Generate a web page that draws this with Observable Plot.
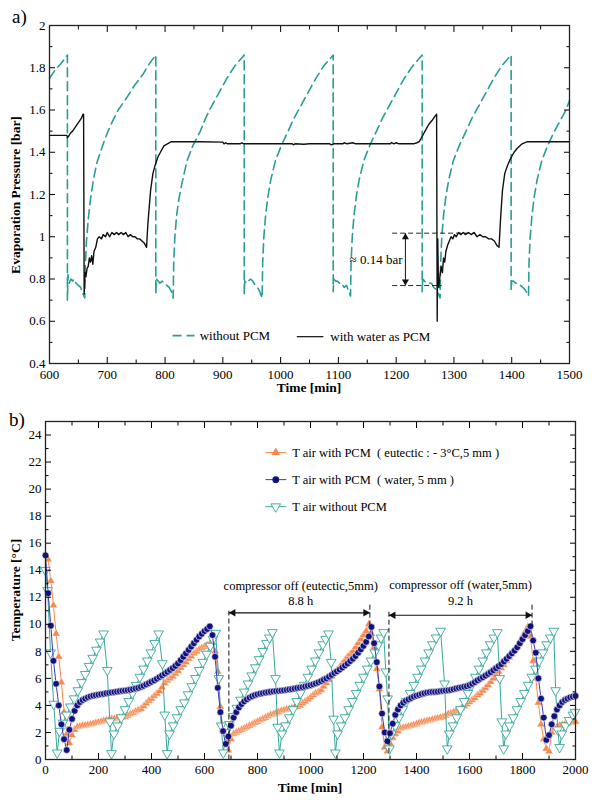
<!DOCTYPE html>
<html><head><meta charset="utf-8">
<script src="https://cdn.jsdelivr.net/npm/d3@7"></script>
<script src="https://cdn.jsdelivr.net/npm/@observablehq/plot@0.6"></script>
<style>
body{margin:0;background:#fff;}
#wrap{position:relative;width:600px;height:800px;font-family:"Liberation Serif","Times New Roman",serif;color:#000;overflow:hidden;}
.panel{position:absolute;left:0;}
.tag{position:absolute;font-size:19px;}
.ylab{position:absolute;font-weight:bold;font-size:13.5px;white-space:nowrap;transform:translate(-50%,-50%) rotate(-90deg);}
.xlab{position:absolute;font-weight:bold;font-size:13.5px;white-space:nowrap;transform:translate(-50%,-50%);}
</style></head><body>
<div id="wrap">
  <div class="panel" id="pa" style="top:0"></div>
  <div class="panel" id="pb" style="top:395px"></div>
  <div class="tag" style="left:12px;top:6px">a)</div>
  <div class="tag" style="left:9px;top:409px">b)</div>
  <div class="ylab" style="left:16px;top:195px">Evaporation Pressure [bar]</div>
  <div class="xlab" style="left:309px;top:388px">Time [min]</div>
  <div class="ylab" style="left:16px;top:590px">Temperature [°C]</div>
  <div class="xlab" style="left:310px;top:788px">Time [min]</div>
</div>
<script>
// ---------- Panel a data ----------
const aXTicks = [600,700,800,900,1000,1100,1200,1300,1400,1500];
const aXMinor = [650,750,850,950,1050,1150,1250,1350,1450];
const aYTicks = [0.4,0.6,0.8,1,1.2,1.4,1.6,1.8,2];
const aYMinor = [0.5,0.7,0.9,1.1,1.3,1.5,1.7,1.9];

// without PCM: [time, pressure]
const aWithoutPcm = [
 [600,1.75],[610,1.79],[620,1.82],[631,1.86],
 [631,0.70],[632,0.82],[634,0.78],[637,0.80],[640,0.79],[643,0.80],[646,0.78],[650,0.77],[654,0.76],[658,0.73],[661,0.71],
 [662,0.86],[664,0.98],[667,1.08],[671,1.18],[676,1.27],[682,1.35],[688,1.40],[697,1.47],[706,1.53],[719,1.60],[734,1.66],[748,1.72],[762,1.77],[773,1.82],[784,1.86],
 [784,0.73],[785,0.80],[788,0.79],[791,0.78],[795,0.79],[799,0.78],[803,0.77],[807,0.76],[811,0.74],[814,0.71],
 [815,0.88],[817,1.0],[820,1.1],[824,1.18],[829,1.25],[838,1.36],[848,1.43],[861,1.50],[870,1.56],[879,1.61],[893,1.68],[907,1.75],[921,1.81],[937,1.86],
 [937,0.73],[938,0.79],[941,0.78],[944,0.79],[948,0.80],[952,0.79],[956,0.77],[960,0.76],[964,0.74],[968,0.71],
 [969,0.88],[971,1.0],[974,1.1],[978,1.19],[983,1.27],[991,1.36],[1001,1.43],[1013,1.50],[1023,1.56],[1033,1.61],[1047,1.68],[1061,1.75],[1075,1.81],[1091,1.86],
 [1091,0.74],[1092,0.80],[1095,0.79],[1098,0.79],[1102,0.78],[1106,0.78],[1110,0.76],[1114,0.77],[1118,0.74],[1121,0.72],
 [1122,0.88],[1124,1.0],[1127,1.1],[1131,1.19],[1136,1.27],[1144,1.36],[1154,1.43],[1166,1.50],[1176,1.56],[1186,1.61],[1200,1.68],[1214,1.75],[1229,1.81],[1245,1.86],
 [1245,0.74],[1246,0.80],[1249,0.79],[1253,0.78],[1257,0.78],[1261,0.78],[1265,0.76],[1269,0.75],[1273,0.73],[1276,0.71],
 [1277,0.88],[1279,1.0],[1282,1.1],[1286,1.19],[1291,1.27],[1299,1.36],[1309,1.43],[1321,1.50],[1331,1.56],[1341,1.61],[1355,1.68],[1369,1.75],[1383,1.81],[1399,1.86],
 [1399,0.75],[1400,0.79],[1403,0.79],[1407,0.78],[1411,0.78],[1415,0.77],[1419,0.76],[1423,0.75],[1427,0.73],[1429,0.72],
 [1430,0.88],[1432,1.0],[1435,1.1],[1439,1.19],[1444,1.27],[1452,1.36],[1462,1.43],[1474,1.50],[1484,1.55],[1494,1.60],[1500,1.645]
];
// with water as PCM: [time, pressure]
const aWaterPcm = [
 [600,1.48],[630,1.48],[631,1.47],[633,1.475],[636,1.49],[640,1.50],[645,1.52],[650,1.54],[655,1.56],[658,1.58],[659,1.58],
 [660,0.73],[661,0.80],[662,0.83],[663,0.81],[665,0.85],[667,0.86],[669,0.90],[671,0.88],[673,0.91],[675,0.87],[677,0.93],[680,0.95],
 [683,0.99],[686,1.00],[690,0.99],[693,1.01],[697,1.00],[700,1.02],[704,1.00],[708,1.02],[712,1.01],[716,1.02],[720,1.01],[724,1.02],
 [728,1.01],[732,1.02],[736,1.00],[740,1.01],[744,1.00],[748,1.00],[752,0.99],[756,0.99],[760,0.98],[764,0.97],[768,0.95],
 [770,1.05],[772,1.12],[775,1.22],[779,1.30],[783,1.34],[788,1.38],[792,1.40],[798,1.43],[804,1.44],[811,1.45],[818,1.45],
 [860,1.45],[900,1.448],[902,1.44],[905,1.445],[908,1.44],[930,1.44],[933,1.445],[936,1.44],[1020,1.44],[1022,1.435],[1025,1.44],
 [1040,1.438],[1050,1.44],[1085,1.44],[1088,1.435],[1092,1.44],[1108,1.44],[1110,1.445],[1115,1.44],[1125,1.445],[1130,1.44],
 [1190,1.44],[1192,1.446],[1196,1.44],[1200,1.445],[1205,1.44],[1230,1.44],[1236,1.445],[1240,1.45],[1244,1.47],[1250,1.50],
 [1256,1.53],[1262,1.55],[1267,1.57],[1270,1.58],
 [1271,0.60],[1272,0.99],[1273,0.80],[1274,0.76],[1276,0.82],[1278,0.86],[1280,0.83],[1282,0.90],[1284,0.88],[1286,0.93],[1289,0.96],
 [1292,0.98],[1295,1.00],[1298,0.99],[1301,1.01],[1304,1.00],[1308,1.02],[1312,1.01],[1316,1.02],[1320,1.01],[1325,1.02],[1330,1.01],
 [1335,1.02],[1340,1.00],[1345,1.01],[1350,1.00],[1355,1.00],[1360,0.99],[1365,0.99],[1370,0.98],[1374,0.96],[1378,0.95],
 [1381,1.10],[1384,1.22],[1388,1.30],[1393,1.34],[1398,1.37],[1404,1.40],[1410,1.42],[1418,1.44],[1427,1.45],[1500,1.45]
];
// annotation of the pressure difference
const aBracketY = [1.017, 0.769];
const aBracketX1 = [1193, 1193];
const aBracketX2 = [1337, 1279];
const aDeltaX = 1216;
const aDeltaLabel = "≈ 0.14 bar";
const aLegendLabels = ["without PCM", "with water as PCM"];

// ---------- Panel b data ----------
const bXTicks = [0,200,400,600,800,1000,1200,1400,1600,1800,2000];
const bXMinor = [100,300,500,700,900,1100,1300,1500,1700,1900];
const bYTicks = [0,2,4,6,8,10,12,14,16,18,20,22,24];
const bYMinor = [1,3,5,7,9,11,13,15,17,19,21,23,25];

const bTime = [
 0,10,20,30,40,50,60,70,80,90, 100,110,120,130,140,150,160,170,180,190,
 200,210,220,230,240,250,260,270,280,290, 300,310,320,330,340,350,360,370,380,390,
 400,410,420,430,440,450,460,470,480,490, 500,510,520,530,540,550,560,570,580,590,
 600,610,620,630,640,650,660,670,680,690, 700,710,720,730,740,750,760,770,780,790,
 800,810,820,830,840,850,860,870,880,890, 900,910,920,930,940,950,960,970,980,990,
 1000,1010,1020,1030,1040,1050,1060,1070,1080,1090, 1100,1110,1120,1130,1140,1150,1160,1170,1180,1190,
 1200,1210,1220,1230,1240,1250,1260,1270,1280,1290, 1300,1310,1320,1330,1340,1350,1360,1370,1380,1390,
 1400,1410,1420,1430,1440,1450,1460,1470,1480,1490, 1500,1510,1520,1530,1540,1550,1560,1570,1580,1590,
 1600,1610,1620,1630,1640,1650,1660,1670,1680,1690, 1700,1710,1720,1730,1740,1750,1760,1770,1780,1790,
 1800,1810,1820,1830,1840,1850,1860,1870,1880,1890, 1900,1910,1920,1930,1940,1950,1960,1970,1980,1990,
 2000
];
// T air with PCM (water, 5 mm)
const bWater = [
 15.1,12.3,9.9,7.3,5.6,4.0,2.6,1.5,0.7,2.2,
 3.0,3.6,4.0,4.25,4.4,4.5,4.6,4.67,4.72,4.76,
 4.8,4.83,4.86,4.9,4.93,4.96,4.99,5.02,5.05,5.08,
 5.1,5.13,5.16,5.2,5.25,5.3,5.37,5.45,5.55,5.65,
 5.75,5.85,5.97,6.1,6.22,6.35,6.48,6.62,6.76,6.92,
 7.1,7.35,7.6,7.85,8.1,8.35,8.6,8.85,9.1,9.3,
 9.5,9.65,9.85,9.2,7.6,5.3,3.5,2.1,1.15,1.7,
 2.5,3.1,3.5,3.85,4.1,4.3,4.45,4.58,4.68,4.76,
 4.82,4.87,4.91,4.95,4.98,5.01,5.04,5.06,5.08,5.1,
 5.12,5.15,5.18,5.21,5.25,5.29,5.32,5.36,5.4,5.45,
 5.5,5.56,5.63,5.71,5.8,5.9,6.0,6.12,6.25,6.4,
 6.52,6.65,6.8,6.95,7.1,7.28,7.45,7.65,7.9,8.15,
 8.4,8.7,9.1,9.8,8.6,7.2,5.4,3.4,2.0,1.35,
 1.95,2.65,3.3,3.7,4.0,4.2,4.35,4.45,4.55,4.65,
 4.72,4.78,4.85,4.9,4.95,4.98,5.0,5.0,5.02,5.05,
 5.08,5.1,5.12,5.15,5.2,5.25,5.3,5.34,5.38,5.42,
 5.5,5.6,5.72,5.85,5.97,6.08,6.2,6.33,6.46,6.6,
 6.75,6.9,7.05,7.25,7.45,7.65,7.85,8.05,8.3,8.6,
 8.9,9.2,9.5,9.85,8.8,7.9,6.0,4.5,3.1,1.45,
 1.8,2.6,3.2,3.7,4.0,4.25,4.4,4.5,4.6,4.65,
 4.7
];
// T air with PCM (eutectic -3°C, 5 mm)
const bEutectic = [
 null,14.8,13.2,11.4,9.3,7.6,5.7,3.5,1.9,1.2,
 1.8,2.2,2.4,2.45,2.5,2.52,2.55,2.6,2.65,2.7,
 2.75,2.8,2.85,2.9,2.95,3.0,3.0,3.05,3.1,3.12,
 3.15,3.25,3.35,3.45,3.55,3.65,3.75,3.95,4.15,4.35,
 4.5,4.7,4.87,5.05,5.35,5.65,5.85,6.0,6.15,6.35,
 6.55,6.8,7.0,7.2,7.45,7.65,7.85,8.0,8.15,8.25,
 8.35,8.45,8.55,8.65,8.0,6.5,3.9,2.1,1.2,0.67,
 1.5,1.9,2.0,2.1,2.2,2.3,2.4,2.5,2.6,2.7,
 2.8,2.9,3.0,3.1,3.2,3.3,3.35,3.45,3.5,3.6,
 3.65,3.7,3.75,3.8,3.85,3.9,4.0,4.15,4.3,4.45,
 4.6,4.75,4.9,5.0,5.15,5.4,5.65,5.9,6.15,6.4,
 6.6,6.85,7.1,7.35,7.6,7.8,8.0,8.3,8.6,8.9,
 9.2,9.5,10.0,9.3,8.3,6.7,5.2,2.4,0.9,0.6,
 1.2,1.6,1.9,2.1,2.3,2.35,2.4,2.45,2.5,2.55,
 2.62,2.7,2.75,2.8,2.85,2.9,2.95,3.0,3.05,3.1,
 3.15,3.25,3.35,3.4,3.5,3.6,3.7,3.8,3.95,4.1,
 4.25,4.4,4.55,4.75,4.9,5.1,5.3,5.5,5.75,6.0,
 6.25,6.5,6.75,7.0,7.3,7.55,7.8,8.1,8.4,8.75,
 9.1,9.45,9.8,9.1,7.3,6.0,4.2,2.6,1.5,0.8,
 0.6,2.0,2.3,2.4,2.5,2.55,2.6,2.65,2.7,2.75,
 2.8
];
// T air without PCM: [time, temperature]
const bWithoutPcm = [
 [0,14.0],[8,12.5],[19,7.9],[31,4.1],[44,0.5],[53,2.1],[66,2.7],[80,3.3],[94,3.9],[108,4.5],[122,5.1],[136,5.7],[150,6.3],[164,6.9],[178,7.5],[192,8.1],[206,8.7],[219,9.3],
 [233,6.6],[243,2.8],[249,0.45],[258,1.9],[272,2.5],[286,3.1],[300,3.7],[314,4.3],[328,4.9],[342,5.5],[356,6.1],[370,6.7],[384,7.3],[398,7.9],[412,8.6],[427,9.3],
 [441,7.1],[450,3.3],[459,0.45],[468,1.9],[482,2.5],[496,3.1],[510,3.7],[524,4.2],[538,4.8],[552,5.4],[566,6.0],[580,6.6],[594,7.2],[608,7.8],[622,8.4],[632,8.9],[642,9.35],
 [654,6.0],[663,2.5],[671,0.5],[680,2.0],[694,2.6],[708,3.2],[722,3.8],[736,4.4],[750,5.0],[764,5.6],[778,6.2],[792,6.8],[806,7.4],[820,8.0],[834,8.6],[845,9.0],[856,9.4],
 [868,6.0],[876,2.4],[883,0.5],[892,1.9],[906,2.5],[920,3.1],[934,3.7],[948,4.3],[962,4.9],[976,5.5],[990,6.1],[1004,6.7],[1018,7.3],[1032,7.9],[1046,8.5],[1057,8.9],[1068,9.3],
 [1078,7.2],[1087,3.0],[1094,0.5],[1102,1.9],[1116,2.5],[1130,3.1],[1144,3.7],[1158,4.3],[1172,4.9],[1186,5.5],[1200,6.1],[1214,6.7],[1228,7.3],[1242,7.9],[1256,8.5],[1266,9.0],[1276,9.4],
 [1284,6.5],[1291,4.5],[1298,0.8],[1306,1.9],[1320,2.5],[1334,3.1],[1348,3.7],[1362,4.3],[1376,4.9],[1390,5.5],[1404,6.1],[1418,6.7],[1432,7.3],[1446,7.9],[1460,8.5],[1474,9.0],[1491,9.5],
 [1506,5.6],[1516,0.8],[1524,1.9],[1538,2.5],[1552,3.1],[1566,3.7],[1580,4.3],[1594,4.9],[1608,5.5],[1622,6.1],[1636,6.7],[1650,7.3],[1664,7.9],[1678,8.5],[1692,9.0],[1705,9.4],
 [1714,6.0],[1722,2.8],[1729,0.8],[1737,1.9],[1751,2.5],[1765,3.1],[1779,3.7],[1793,4.3],[1807,4.9],[1821,5.5],[1835,6.1],[1849,6.7],[1863,7.3],[1877,7.9],[1891,8.5],[1905,9.0],[1918,9.5],
 [1925,5.1],[1933,2.2],[1940,0.9],[1948,1.9],[1962,2.5],[1976,2.9],[1990,3.3],[1998,3.5]
];
const bLegendLabels = [
 "T air with PCM  ( eutectic : - 3°C,5 mm )",
 "T air with PCM  ( water, 5 mm )",
 "T air without PCM"
];
const bLegendY = [22.7, 20.7, 18.7];
// compressor-off periods: start, end, label, duration
const bOffStart = [692, 1296];
const bOffEnd = [1224, 1836];
const bOffLabel = ["compressor off (eutectic,5mm)", "compressor off (water,5mm)"];
const bOffHours = ["8.8 h", "9.2 h"];

// ---------- styles ----------
const teal = "#2a9d95";
const tealB = "#35a89c";
const orange = "#f5884d";
const navy = "#12127f";
const navyLine = "#3b3bb0";
const ink = "#111";
const fontFam = '"Liberation Serif", "Times New Roman", serif';

function frameAxes(xT, xM, yT, yM, fmtX, fmtY, padX) {
  return [
    Plot.axisX(xT, {anchor: "bottom", tickSize: 0, tickPadding: padX, tickFormat: fmtX, label: null}),
    Plot.axisY(yT, {anchor: "left", tickSize: 0, tickPadding: 4, tickFormat: fmtY, label: null}),
    Plot.axisX(xT, {anchor: "bottom", tickSize: -6, fill: "none", label: null}),
    Plot.axisX(xM, {anchor: "bottom", tickSize: -3.5, fill: "none", label: null}),
    Plot.axisX(xT, {anchor: "top", tickSize: -6, fill: "none", label: null}),
    Plot.axisX(xM, {anchor: "top", tickSize: -3.5, fill: "none", label: null}),
    Plot.axisY(yT, {anchor: "left", tickSize: -6, fill: "none", label: null}),
    Plot.axisY(yM, {anchor: "left", tickSize: -3.5, fill: "none", label: null}),
    Plot.axisY(yT, {anchor: "right", tickSize: -6, fill: "none", label: null}),
    Plot.axisY(yM, {anchor: "right", tickSize: -3.5, fill: "none", label: null}),
    Plot.frame({stroke: "#222", strokeWidth: 1.3})
  ];
}

// ---------- Panel a ----------
const aBracket = aBracketY.map((y, i) => ({y, x1: aBracketX1[i], x2: aBracketX2[i]}));
const aDelta = [{x: aDeltaX, lo: aBracketY[1], hi: aBracketY[0], label: aDeltaLabel, ty: (aBracketY[0] + aBracketY[1]) / 2}];

const plotA = Plot.plot({
  width: 600, height: 395,
  marginTop: 25, marginRight: 31, marginBottom: 32, marginLeft: 49,
  style: {fontFamily: fontFam, fontSize: "13px", color: "#000", background: "#fff"},
  x: {domain: [600, 1500]},
  y: {domain: [0.4, 2]},
  marks: [
    Plot.line(aWithoutPcm, {x: d => d[0], y: d => d[1], stroke: teal, strokeWidth: 1.6, strokeDasharray: "9,5"}),
    Plot.line(aWaterPcm, {x: d => d[0], y: d => d[1], stroke: ink, strokeWidth: 1.4}),
    Plot.link(aBracket, {x1: "x1", x2: "x2", y1: "y", y2: "y", stroke: ink, strokeWidth: 0.9, strokeDasharray: "5,3"}),
    Plot.link(aDelta, {x1: "x", x2: "x", y1: "lo", y2: "hi", stroke: ink, strokeWidth: 1}),
    Plot.dot(aDelta, {x: "x", y: "hi", symbol: "triangle", r: 2.6, fill: ink, stroke: null, dy: 4}),
    Plot.dot(aDelta, {x: "x", y: "lo", symbol: "triangle", rotate: 180, r: 2.6, fill: ink, stroke: null, dy: -4}),
    Plot.text(aDelta, {x: d => d.x - 5, y: "ty", text: "label", textAnchor: "end", fontSize: 13, fill: "#000"}),
    // legend
    Plot.link([aLegendLabels[0]], {x1: 813, x2: 851, y1: 0.532, y2: 0.532, stroke: teal, strokeWidth: 1.6, strokeDasharray: "9,5"}),
    Plot.text([aLegendLabels[0]], {x: 860, y: 0.532, text: d => d, textAnchor: "start", fontSize: 13, fill: "#000"}),
    Plot.link([aLegendLabels[1]], {x1: 1028, x2: 1074, y1: 0.527, y2: 0.527, stroke: ink, strokeWidth: 1.2}),
    Plot.text([aLegendLabels[1]], {x: 1086, y: 0.527, text: d => d, textAnchor: "start", fontSize: 13, fill: "#000"}),
    ...frameAxes(aXTicks, aXMinor, aYTicks, aYMinor, d => String(d), d => String(d), 6)
  ]
});
document.getElementById("pa").appendChild(plotA);

// ---------- Panel b ----------
const bWaterData = bTime.map((t, i) => ({t, v: bWater[i]}));
const bEutData = bTime.map((t, i) => ({t, v: bEutectic[i]}));
const bNoData = bWithoutPcm.map(d => ({t: d[0], v: d[1]}));
const bLeg = bLegendLabels.map((label, i) => ({label, y: bLegendY[i], i}));
const bOff = bOffStart.map((s, i) => ({s, e: bOffEnd[i], label: bOffLabel[i], hours: bOffHours[i], mid: (s + bOffEnd[i]) / 2 + [5, 0][i]}));
const bArrowY = [10.85, 10.67];

const plotB = Plot.plot({
  width: 600, height: 405,
  marginTop: 26, marginRight: 25, marginBottom: 41, marginLeft: 45,
  style: {fontFamily: fontFam, fontSize: "13px", color: "#000", background: "#fff"},
  x: {domain: [0, 2000]},
  y: {domain: [0, 25]},
  marks: [
    // series
    Plot.line(bEutData, {x: "t", y: "v", stroke: orange, strokeWidth: 1}),
    Plot.dot(bEutData, {x: "t", y: "v", symbol: "triangle", r: 3, fill: orange, stroke: "#fff", strokeWidth: 0.4}),
    Plot.line(bNoData, {x: "t", y: "v", stroke: tealB, strokeWidth: 1}),
    Plot.dot(bNoData, {x: "t", y: "v", symbol: "triangle", rotate: 180, r: 3.6, fill: "#fff", stroke: tealB, strokeWidth: 0.9}),
    Plot.line(bWaterData, {x: "t", y: "v", stroke: navyLine, strokeWidth: 1}),
    Plot.dot(bWaterData, {x: "t", y: "v", r: 3.4, fill: navy, stroke: "#fff", strokeWidth: 0.6}),
    // compressor-off annotations
    Plot.link(bOff, {x1: "s", x2: "s", y1: [0, 0.5], y2: [11.0, 11.1], stroke: ink, strokeWidth: 1, strokeDasharray: "5,3"}),
    Plot.link(bOff, {x1: "e", x2: "e", y1: [9.9, 9.9], y2: [11.6, 11.6], stroke: ink, strokeWidth: 1, strokeDasharray: "5,3"}),
    Plot.link(bOff, {x1: "s", x2: "e", y1: bArrowY, y2: bArrowY, stroke: ink, strokeWidth: 1.2}),
    Plot.dot(bOff, {x: "s", y: bArrowY, symbol: "triangle", rotate: -90, r: 2.8, fill: ink, stroke: null, dx: 4.3}),
    Plot.dot(bOff, {x: "e", y: bArrowY, symbol: "triangle", rotate: 90, r: 2.8, fill: ink, stroke: null, dx: -4.3}),
    Plot.text(bOff, {x: "mid", y: [12.8, 12.9], text: "label", fontSize: 12.5, fill: "#000"}),
    Plot.text(bOff, {x: "mid", y: [11.7, 11.75], text: "hours", fontSize: 12.5, fill: "#000"}),
    // legend
    Plot.link(bLeg.filter(d => d.i === 0), {x1: 830, x2: 909, y1: "y", y2: "y", stroke: orange, strokeWidth: 1}),
    Plot.dot(bLeg.filter(d => d.i === 0), {x: 869, y: "y", symbol: "triangle", r: 3.2, fill: orange, stroke: null}),
    Plot.link(bLeg.filter(d => d.i === 1), {x1: 830, x2: 909, y1: "y", y2: "y", stroke: navyLine, strokeWidth: 1}),
    Plot.dot(bLeg.filter(d => d.i === 1), {x: 869, y: "y", r: 3.4, fill: navy, stroke: null}),
    Plot.link(bLeg.filter(d => d.i === 2), {x1: 830, x2: 909, y1: "y", y2: "y", stroke: tealB, strokeWidth: 1}),
    Plot.dot(bLeg.filter(d => d.i === 2), {x: 869, y: "y", symbol: "triangle", rotate: 180, r: 3.6, fill: "#fff", stroke: tealB, strokeWidth: 0.9}),
    Plot.text(bLeg, {x: 931, y: "y", text: "label", textAnchor: "start", fontSize: 12.5, fill: "#000"}),
    ...frameAxes(bXTicks, bXMinor, bYTicks, bYMinor, d => String(d), d => String(d), 5)
  ]
});
document.getElementById("pb").appendChild(plotB);
</script>
</body></html>
